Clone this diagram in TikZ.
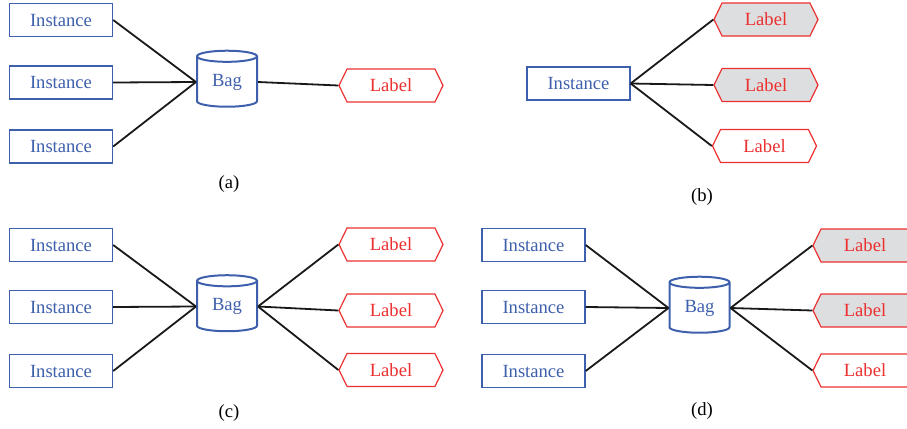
\documentclass[tikz,border=0pt]{standalone}
\usepackage{fontspec}
\setmainfont{Liberation Serif}
\usetikzlibrary{shapes.geometric,shapes.symbols}
\definecolor{instblue}{RGB}{62,96,172}
\definecolor{labred}{RGB}{236,48,48}
\definecolor{labgray}{RGB}{221,222,223}
\begin{document}
\begin{tikzpicture}[x=0.5pt,y=-0.5pt,
    font=\fontsize{9.3}{11}\selectfont,
    inst/.style={draw=instblue,text=instblue,line width=0.7pt,minimum width=51.5pt,minimum height=16.5pt,inner sep=0pt},
    bag/.style={cylinder,shape border rotate=90,aspect=0.37,draw=instblue,text=instblue,line width=1pt,minimum width=30pt,minimum height=28pt,inner sep=0pt},
    lab/.style={signal,signal to=west and east,signal pointer angle=128,draw=labred,text=labred,line width=0.6pt,minimum width=52pt,minimum height=16.5pt,inner sep=0pt},
    hit/.style={lab,fill=labgray},
    link/.style={line width=0.9pt,black!90}]
    \useasboundingbox (0,0) rectangle (907,429);
    % (a)
    \node[inst] (ia1) at (61,20) {Instance};
    \node[inst] (ia2) at (61,82.5) {Instance};
    \node[inst] (ia3) at (61,146.5) {Instance};
    \node[bag] (baga) at (227,82) {Bag};
    \node[lab] (la) at (391,85.5) {Label};
    \draw[link] (ia1.east) -- (baga.west);
    \draw[link] (ia2.east) -- (baga.west);
    \draw[link] (ia3.east) -- (baga.west);
    \draw[link] (baga.east) -- (la.west);
    \node (capa) at (229,184) {(a)};
    % (b)
    \node[inst] (ib) at (578.5,83.5) {Instance};
    \node[hit] (lb1) at (766,19.5) {Label};
    \node[hit] (lb2) at (766,85) {Label};
    \node[lab] (lb3) at (764.5,146) {Label};
    \draw[link] (ib.east) -- (lb1.west);
    \draw[link] (ib.east) -- (lb2.west);
    \draw[link] (ib.east) -- (lb3.west);
    \node (capb) at (702,197) {(b)};
    % (c)
    \node[inst] (ic1) at (61,245) {Instance};
    \node[inst] (ic2) at (61,307) {Instance};
    \node[inst] (ic3) at (61,371) {Instance};
    \node[bag] (bagc) at (227,306.5) {Bag};
    \node[lab] (lc1) at (391,244.5) {Label};
    \node[lab] (lc2) at (391,310.5) {Label};
    \node[lab] (lc3) at (391,370) {Label};
    \foreach \i in {1,2,3} {
        \draw[link] (ic\i.east) -- (bagc.west);
        \draw[link] (bagc.east) -- (lc\i.west);
    }
    \node (capc) at (229,413) {(c)};
    % (d)
    \node[inst] (id1) at (533.5,245) {Instance};
    \node[inst] (id2) at (533.5,307) {Instance};
    \node[inst] (id3) at (533.5,371) {Instance};
    \node[bag] (bagd) at (699.5,308) {Bag};
    \node[hit] (ld1) at (865,245.5) {Label};
    \node[hit] (ld2) at (865,310.5) {Label};
    \node[lab] (ld3) at (865,370.5) {Label};
    \foreach \i in {1,2,3} {
        \draw[link] (id\i.east) -- (bagd.west);
        \draw[link] (bagd.east) -- (ld\i.west);
    }
    \node (capd) at (702,411) {(d)};
\end{tikzpicture}
\end{document}
